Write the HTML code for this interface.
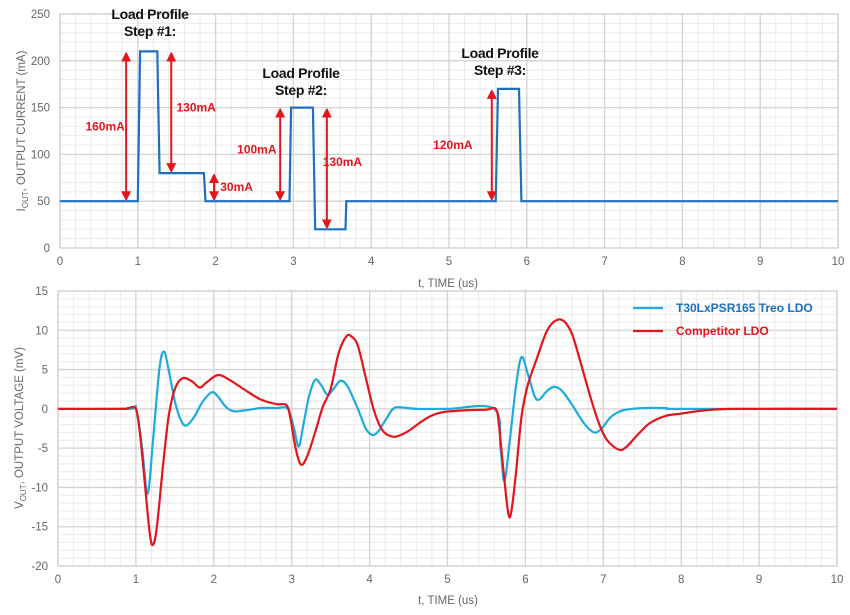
<!DOCTYPE html>
<html><head><meta charset="utf-8"><style>
html,body{margin:0;padding:0;background:#fff;width:850px;height:615px;overflow:hidden}
svg{display:block;font-family:"Liberation Sans",Arial,sans-serif}
</style></head><body>
<svg id="chart" width="850" height="615" viewBox="0 0 850 615" xmlns="http://www.w3.org/2000/svg">
<text transform="translate(25,131) rotate(-90)" text-anchor="middle" font-size="11.5" fill="#666">I<tspan font-size="8" dy="3">OUT</tspan><tspan dy="-3">, OUTPUT CURRENT (mA)</tspan></text>
<text transform="translate(23,428) rotate(-90)" text-anchor="middle" font-size="11.5" fill="#666">V<tspan font-size="8" dy="3">OUT</tspan><tspan dy="-3">, OUTPUT VOLTAGE (mV)</tspan></text>
<text x="448" y="287" text-anchor="middle" font-size="11.5" fill="#666">t, TIME (us)</text>
<text x="448" y="604" text-anchor="middle" font-size="11.5" fill="#666">t, TIME (us)</text>
</svg>
<script>
const xTicks=[0,1,2,3,4,5,6,7,8,9,10];
const iTicks=[0,50,100,150,200,250];
const vTicks=[-20,-15,-10,-5,0,5,10,15];
const iT=[0,1.0,1.03,1.25,1.28,1.85,1.87,2.95,2.97,3.25,3.28,3.67,3.68,5.6,5.63,5.9,5.93,10];
const iV=[50,50,210,210,80,80,50,50,150,150,20,20,50,50,170,170,50,50];
const blueT=[0,0.9,1.0,1.08,1.15,1.22,1.3,1.36,1.42,1.5,1.58,1.65,1.75,1.85,1.97,2.05,2.15,2.25,2.4,2.6,2.8,2.95,3.03,3.09,3.15,3.22,3.3,3.38,3.46,3.55,3.63,3.72,3.85,3.95,4.03,4.1,4.2,4.3,4.4,4.6,5,5.6,5.68,5.73,5.8,5.88,5.95,6.03,6.12,6.18,6.28,6.37,6.47,6.6,6.75,6.88,6.98,7.1,7.25,7.5,7.8,8,10];
const blueV=[0,0,0,-5,-10.8,-4,5,7.3,5,1,-1.5,-2.1,-1,0.8,2.1,1.6,0.3,-0.3,-0.2,0.1,0.1,0,-2.5,-4.8,-2,1.5,3.7,3,1.8,2.7,3.6,2.8,0,-2.5,-3.3,-3,-1.5,0,0.2,0,0,0,-5,-9.2,-4,3,6.6,4.5,1.6,1.2,2.3,2.8,2.3,0.5,-1.8,-3,-2.5,-1,-0.2,0.1,0.1,0,0];
const redT=[0,0.8,0.9,1.0,1.05,1.12,1.18,1.22,1.27,1.35,1.42,1.5,1.6,1.72,1.82,1.9,2.05,2.2,2.4,2.6,2.8,2.93,2.98,3.05,3.12,3.2,3.3,3.4,3.5,3.6,3.7,3.77,3.85,3.95,4.05,4.15,4.25,4.35,4.5,4.7,4.9,5.2,5.5,5.62,5.66,5.72,5.78,5.82,5.88,5.95,6.03,6.15,6.28,6.4,6.5,6.6,6.72,6.85,6.95,7.05,7.2,7.3,7.45,7.6,7.8,8.0,8.3,8.7,10];
const redV=[0,0,0.1,0,-3,-10,-16,-17.3,-15,-7,-1,2.5,3.9,3.5,2.7,3.3,4.3,3.7,2.4,1.2,0.6,0.5,-1,-5,-7.1,-6,-3,0.3,2.5,7,9.2,9.2,8,4,0,-2.5,-3.4,-3.5,-2.8,-1.4,-0.5,-0.2,-0.1,0,-2,-8,-13.3,-13,-8,-1,3,6.5,10,11.3,11.1,9.5,5.5,1,-2,-4,-5.2,-4.8,-3.2,-1.8,-0.9,-0.6,-0.2,0,0];
const arrowT=[0.85,1.43,1.98,2.83,3.43,5.55];
const arrowLo=[50,80,50,50,20,50];
const arrowHi=[210,210,80,150,150,170];
const arrowLabels=["160mA","130mA","30mA","100mA","130mA","120mA"];
const labelT=[0.58,1.75,2.27,2.53,3.63,5.05];
const labelI=[130,150,65,105,92,110];

const NS="http://www.w3.org/2000/svg";
const svg=document.getElementById('chart');
function mk(tag,at,parent){const e=document.createElementNS(NS,tag);for(const k in at)e.setAttribute(k,at[k]);(parent||svg).appendChild(e);return e;}
const T={l:60,r:838,t:14,b:248}, B={l:58,r:837,t:291,b:566};
const xT=v=>T.l+(T.r-T.l)*v/10, yT=v=>T.b-(T.b-T.t)*v/250;
const xB=v=>B.l+(B.r-B.l)*v/10, yB=v=>B.b-(B.b-B.t)*(v+20)/35;

function grid(P,xs,ys,ymin,ymax,ystep,xf,yf,name){
  for(let v=0;v<=10.001;v+=0.2){const ln=mk('line',{x1:xf(v),x2:xf(v),y1:P.t,y2:P.b,stroke:'#ebebeb','stroke-width':1});
    
    }
  for(let v=ymin;v<=ymax+1e-6;v+=ystep){const ln=mk('line',{x1:P.l,x2:P.r,y1:yf(v),y2:yf(v),stroke:'#ebebeb','stroke-width':1});
    
    }
  xs.forEach(v=>{const ln=mk('line',{x1:xf(v),x2:xf(v),y1:P.t,y2:P.b,stroke:'#d3d3d3','stroke-width':1.3});
    
    
    const tx=mk('text',{x:xf(v),y:P.b+17,'text-anchor':'middle','font-size':11.5,fill:'#666'});tx.textContent=v;
    
    });
  ys.forEach(v=>{const ln=mk('line',{x1:P.l,x2:P.r,y1:yf(v),y2:yf(v),stroke:'#d3d3d3','stroke-width':1.3});
    
    
    const tx=mk('text',{x:P.l-10,y:yf(v)+4,'text-anchor':'end','font-size':11.5,fill:'#666'});tx.textContent=v;
    
    });
  const fr=mk('rect',{x:P.l,y:P.t,width:P.r-P.l,height:P.b-P.t,fill:'none',stroke:'#cfcfcf','stroke-width':1.2});
  
  
}
grid(T,xTicks,iTicks,0,250,10,xT,yT,'top');
grid(B,xTicks,vTicks,-20,15,1,xB,yB,'bottom');

// current
let d=iT.map((t,i)=>(i?'L':'M')+xT(t).toFixed(1)+','+yT(iV[i]).toFixed(1)).join('');
const cur=mk('path',{d:d,fill:'none',stroke:'#1f6fc0','stroke-width':2.2});



// arrows
mk('defs',{}).innerHTML='<marker id="ah" markerWidth="9" markerHeight="10" refX="5" refY="5" orient="auto-start-reverse" markerUnits="userSpaceOnUse"><path d="M0,0L10,5L0,10z" fill="#e3161b"/></marker>';
arrowT.forEach((t,i)=>{
  const a=mk('line',{x1:xT(t),x2:xT(t),y1:yT(arrowLo[i])-5,y2:yT(arrowHi[i])+5,stroke:'#e3161b','stroke-width':2,'marker-start':'url(#ah)','marker-end':'url(#ah)'});
  
  
  const tx=mk('text',{x:xT(labelT[i]),y:yT(labelI[i])+4,'text-anchor':'middle','font-size':12,'font-weight':'bold',fill:'#e3161b'});tx.textContent=arrowLabels[i];
  
  
});
[[150,19,'1'],[301,78,'2'],[500,58,'3']].forEach(p=>{
  const tx=mk('text',{x:p[0],y:p[1],'text-anchor':'middle','font-size':14,'font-weight':'bold',fill:'#111','letter-spacing':'-0.3'});
  tx.innerHTML='<tspan x="'+p[0]+'">Load Profile</tspan><tspan x="'+p[0]+'" dy="17">Step #'+p[2]+':</tspan>';
  
  
});

function smooth(ts,vs){
  const P=ts.map((t,i)=>[xB(t),yB(vs[i])]);
  let s='M'+P[0][0].toFixed(1)+','+P[0][1].toFixed(1);
  for(let i=0;i<P.length-1;i++){
    const p0=P[Math.max(0,i-1)],p1=P[i],p2=P[i+1],p3=P[Math.min(P.length-1,i+2)];
    const c1=[p1[0]+(p2[0]-p0[0])/6,p1[1]+(p2[1]-p0[1])/6],c2=[p2[0]-(p3[0]-p1[0])/6,p2[1]-(p3[1]-p1[1])/6];
    s+='C'+c1.map(v=>v.toFixed(1))+' '+c2.map(v=>v.toFixed(1))+' '+p2.map(v=>v.toFixed(1));
  }
  return s;
}
const bl=mk('path',{d:smooth(blueT,blueV),fill:'none',stroke:'#1eaadd','stroke-width':2.2});


const rl=mk('path',{d:smooth(redT,redV),fill:'none',stroke:'#e3161b','stroke-width':2.2});



// legend
[[308,'#1eaadd','#1a6fbf','T30LxPSR165 Treo LDO'],[331,'#e3161b','#e3161b','Competitor LDO']].forEach(l=>{
  const ln=mk('line',{x1:633,x2:663,y1:l[0],y2:l[0],stroke:l[1],'stroke-width':2.2});
  
  
  const tx=mk('text',{x:676,y:l[0]+4,'font-size':12,'font-weight':'bold',fill:l[2]});tx.textContent=l[3];
  
  
});
</script>
</body></html>
